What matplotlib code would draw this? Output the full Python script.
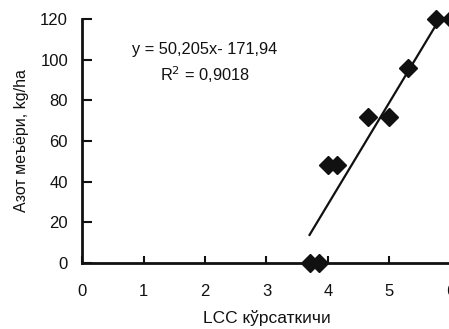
import matplotlib
matplotlib.use("Agg")
import matplotlib.pyplot as plt
import numpy as np

plt.rcParams['font.family'] = ['Liberation Sans', 'DejaVu Sans']

lcc = [3.7, 3.85, 4.0, 4.15, 4.65, 5.0, 5.3, 5.75, 6.0]
nitrogen = [0, 0, 48, 48, 72, 72, 96, 120, 120]
slope, intercept = 50.205, -171.94
eq_text = "y = 50,205x- 171,94"
r2_text = "R$^2$ = 0,9018"
xticks = [0, 1, 2, 3, 4, 5, 6]
yticks = [0, 20, 40, 60, 80, 100, 120]

fig = plt.figure(figsize=(4.49, 3.29), dpi=100)
ax = fig.add_axes([82/449, 1-263/329, 369/449, 244/329])

xl = np.array([min(lcc), max(lcc)])
ax.plot(xl, slope*xl + intercept, color='#111111', lw=1.6, clip_on=True, zorder=2)
ax.plot(lcc, nitrogen, linestyle='none', marker='D', markersize=9.5,
        color='#111111', clip_on=False, zorder=3)

ax.set_xlim(0, 6)
ax.set_ylim(0, 120)
ax.set_xticks(xticks)
ax.set_yticks(yticks)
ax.set_xticklabels([str(v) for v in xticks])
ax.set_yticklabels([str(v) for v in yticks])
for s in ['top', 'right']:
    ax.spines[s].set_visible(False)
for s in ['left', 'bottom']:
    ax.spines[s].set_linewidth(2)
    ax.spines[s].set_color('#111111')
ax.tick_params(axis='x', direction='in', length=5, width=1.5, pad=15, labelsize=12, colors='#111111')
ax.tick_params(axis='y', direction='in', length=7, width=1.5, pad=10, labelsize=12, colors='#111111')

ax.text(2.0, 105, eq_text, ha='center', va='center', fontsize=11.8, color='#111111')
ax.text(2.0, 92.5, r2_text, ha='center', va='center', fontsize=11.8, color='#111111')

ax.set_xlabel("LCC кўрсаткичи", fontsize=12.5, labelpad=8, color='#111111')
ax.set_ylabel("Азот меъёри, kg/ha", fontsize=11.5, labelpad=8, color='#111111')

fig.savefig("out.png", dpi=100)
